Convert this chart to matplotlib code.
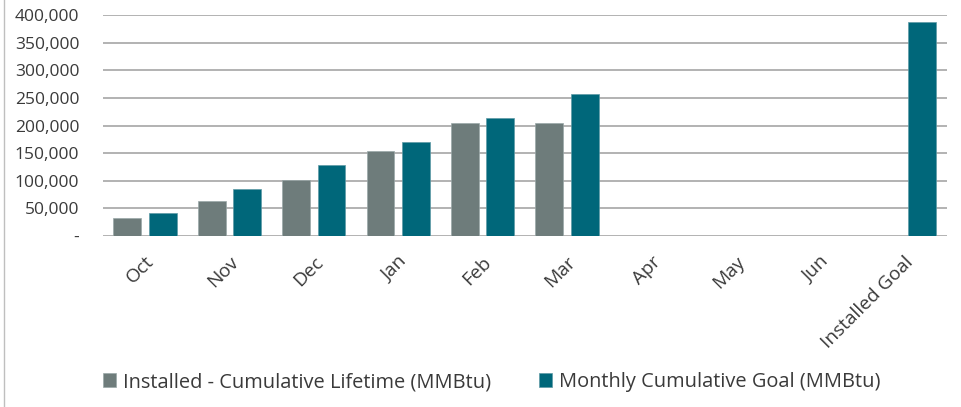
import matplotlib.pyplot as plt
import matplotlib.ticker as mticker
import numpy as np
from matplotlib.lines import Line2D

plt.rcParams['font.family'] = ['Open Sans', 'DejaVu Sans']

categories = ['Oct', 'Nov', 'Dec', 'Jan', 'Feb', 'Mar', 'Apr', 'May', 'Jun', 'Installed Goal']
installed = [33000, 64000, 102000, 154000, 205000, 205000, np.nan, np.nan, np.nan, np.nan]
goal = [42000, 85000, 128000, 171000, 214000, 258000, np.nan, np.nan, np.nan, 388000]
series_names = ['Installed - Cumulative Lifetime (MMBtu)', 'Monthly Cumulative Goal (MMBtu)']

GRAY = '#6E7C7B'
TEAL = '#00677A'
TEXT = '#3A3A3A'

fig = plt.figure(figsize=(9.61, 4.07), dpi=100)
ax = fig.add_axes([0.107, 0.42, 0.878, 0.543])

x = np.arange(len(categories))
ax.bar(x - 0.21, installed, width=0.33, color=GRAY, edgecolor='#9AA8A8', linewidth=0.5,
       label=series_names[0], zorder=3)
ax.bar(x + 0.21, goal, width=0.33, color=TEAL, edgecolor='#5E9AA6', linewidth=0.5,
       label=series_names[1], zorder=3)

ax.set_xlim(-0.5, len(categories) - 0.5)
ax.set_ylim(0, 400000)
ax.set_yticks(np.arange(0, 400001, 50000))
ax.yaxis.set_major_formatter(mticker.FuncFormatter(lambda v, _: '-' if v == 0 else '{:,.0f}'.format(v)))
ax.grid(axis='y', color='#A6A6A6', linewidth=1.2, zorder=0)
ax.set_axisbelow(True)
for s in ax.spines.values():
    s.set_visible(False)
ax.tick_params(axis='y', length=0, pad=17, labelsize=12.5, labelcolor=TEXT)
ax.tick_params(axis='x', length=0, pad=12, labelsize=13.8, labelcolor=TEXT)
ax.set_xticks(x)
ax.set_xticklabels(categories, rotation=45, ha='right', va='top', rotation_mode='anchor')

# thin frame line at the left edge of the chart area
fig.add_artist(Line2D([0.004, 0.004], [0.0, 1.0], color='#BFBFBF', linewidth=1.0))

handles, labels = ax.get_legend_handles_labels()
fig.legend(handles, labels, loc='center', bbox_to_anchor=(0.512, 0.061), ncol=2, frameon=False,
           fontsize=14.4, handlelength=0.65, handleheight=0.65, handletextpad=0.35, columnspacing=2.4,
           labelcolor=TEXT)

fig.savefig('out.png', dpi=100)
